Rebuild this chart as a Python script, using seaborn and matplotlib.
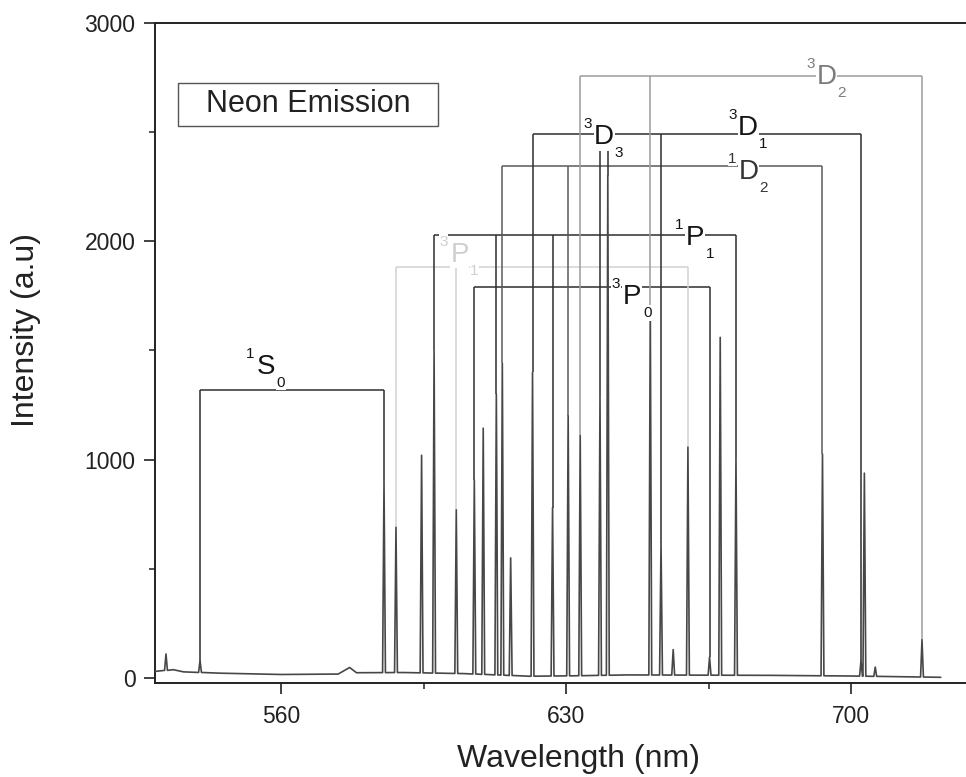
import numpy as np
import pandas as pd
import matplotlib
matplotlib.use("Agg")
import matplotlib.pyplot as plt
import seaborn as sns
from matplotlib.ticker import MultipleLocator
from matplotlib.patches import Rectangle

# emission lines (nm, counts)
peak_nm = [531.7, 540.06, 585.25, 588.19, 594.48, 597.55, 603.00, 607.43, 609.62,
           612.84, 614.31, 616.36, 621.73, 626.65, 630.48, 633.44, 638.30, 640.22,
           650.65, 653.29, 656.28, 659.90, 665.21, 667.83, 671.70, 692.95, 702.41,
           703.24, 705.91, 717.39]
peak_height = [110, 80, 900, 690, 1020, 1500, 770, 906, 1144,
               1300, 1441, 550, 1400, 780, 1200, 1110, 1290, 2300,
               1700, 618, 130, 1057, 96, 1560, 1011, 1025, 80,
               938, 50, 175]

# background level between the lines
base_nm = [529.0, 533.5, 536.0, 545.0, 560.0, 574.0, 576.8, 578.5, 590.0,
           605.0, 621.0, 632.0, 645.0, 680.0, 700.0, 715.0, 722.0]
base_level = [30, 38, 28, 22, 16, 18, 48, 24, 25,
              20, 8, 10, 14, 12, 9, 5, 3]

# term groups: bracket level, lines tied together, extent of the bar
terms = ["1S0", "3P0", "3P1", "1P1", "1D2", "3D3", "3D1", "3D2"]
term_level = [1319, 1790, 1883, 2029, 2345, 2492, 2492, 2758]
term_lines = [
    [540.06, 585.25],
    [607.43, 665.21],
    [588.19, 603.00, 659.90],
    [597.55, 612.84, 626.65, 671.70],
    [614.31, 630.48, 692.95],
    [621.73, 638.30, 640.22],
    [653.29, 702.41],
    [633.44, 650.65, 717.39],
]
term_span = [(540.06, 585.25), (607.43, 665.21), (588.19, 659.90), (597.55, 671.70),
             (614.31, 692.95), (621.73, 653.29), (653.29, 702.41), (633.44, 717.39)]

# where each term symbol sits (nm, counts), and its line / text colours
LABEL_AT = {"1S0": (556.2, 1425), "3P0": (646.2, 1745), "3P1": (603.8, 1938),
            "1P1": (661.6, 2015), "1D2": (674.8, 2318), "3D3": (639.3, 2478),
            "3D1": (674.7, 2519), "3D2": (694.0, 2753)}
STYLE = {"1S0": ("#2e2e2e", "#151515"), "3P0": ("#2e2e2e", "#151515"),
         "3P1": ("#d2d2d2", "#cfcfcf"), "1P1": ("#2e2e2e", "#151515"),
         "1D2": ("#5a5a5a", "#353535"), "3D3": ("#2e2e2e", "#151515"),
         "3D1": ("#2e2e2e", "#151515"), "3D2": ("#9c9c9c", "#7c7c7c")}

sns.set_theme(style="ticks")
plt.rcParams["font.family"] = ["Liberation Sans", "DejaVu Sans"]

# spectrum polyline: background points plus a narrow spike per line
half = 0.35
pts_x, pts_y = [], []
for bx, by in zip(base_nm, base_level):
    if min(abs(bx - p) for p in peak_nm) > half + 0.2:
        pts_x.append(bx)
        pts_y.append(by)
for p, h in zip(peak_nm, peak_height):
    foot = float(np.interp(p, base_nm, base_level))
    pts_x += [p - half, p, p + half]
    pts_y += [foot, h, foot]
spec = pd.DataFrame({"nm": pts_x, "counts": pts_y}).sort_values("nm")

fig = plt.figure(figsize=(9.66, 7.77), dpi=100)
ax = fig.add_axes([155 / 966, 94 / 777, 811 / 966, 660 / 777])

sns.lineplot(data=spec, x="nm", y="counts", estimator=None, sort=False,
             color="#474747", lw=1.2, ax=ax, zorder=3)
ax.lines[-1].set_solid_joinstyle("round")

height_of = dict(zip(peak_nm, peak_height))
for term, lvl, lines, span in zip(terms, term_level, term_lines, term_span):
    lc, tc = STYLE[term]
    ax.hlines(lvl, span[0], span[1], color=lc, lw=1.1, zorder=2)
    for w in lines:
        ax.vlines(w, height_of[w], lvl, color=lc, lw=1.1, zorder=2)
    x, y = LABEL_AT[term]
    box = dict(fc="white", ec="none", pad=0.4)
    ax.text(x, y, term[1], ha="center", va="center", fontsize=20, color=tc,
            bbox=box, zorder=5)
    ax.annotate(term[0], (x, y), xytext=(-11.5, 9.5), textcoords="offset points",
                ha="center", va="center", fontsize=11, color=tc, bbox=box, zorder=6)
    ax.annotate(term[2], (x, y), xytext=(10.8, -11.5), textcoords="offset points",
                ha="center", va="center", fontsize=11, color=tc, bbox=box, zorder=6)

# title box
ax.add_patch(Rectangle((0.0284, 0.844), 0.3206, 0.0652, transform=ax.transAxes,
                       fill=False, ec="#555555", lw=1.0, zorder=4))
ax.text(0.1887, 0.8766, "Neon Emission", transform=ax.transAxes, ha="center",
        va="center", fontsize=22, color="#222222", zorder=5)

ax.set_xlim(529.0, 728.2)
ax.set_ylim(-23, 3000)
ax.xaxis.set_major_locator(MultipleLocator(70))
ax.xaxis.set_minor_locator(MultipleLocator(35))
ax.yaxis.set_major_locator(MultipleLocator(1000))
ax.yaxis.set_minor_locator(MultipleLocator(500))
ax.tick_params(which="major", direction="out", length=8, width=1.2,
               labelsize=16.5, pad=6, colors="#222222")
ax.tick_params(axis="x", which="major", pad=8)
ax.tick_params(which="minor", direction="out", length=4, width=1.1, colors="#222222")

for side in ["left", "bottom", "top"]:
    ax.spines[side].set_linewidth(1.4)
    ax.spines[side].set_color("#222222")
ax.spines["right"].set_visible(False)

ax.set_xlabel("Wavelength (nm)", fontsize=23, color="#222222")
ax.set_ylabel("Intensity (a.u)", fontsize=23, color="#222222")
ax.xaxis.set_label_coords(0.522, -0.092)
ax.yaxis.set_label_coords(-0.14, 0.535)

fig.savefig("out.png", dpi=100)
